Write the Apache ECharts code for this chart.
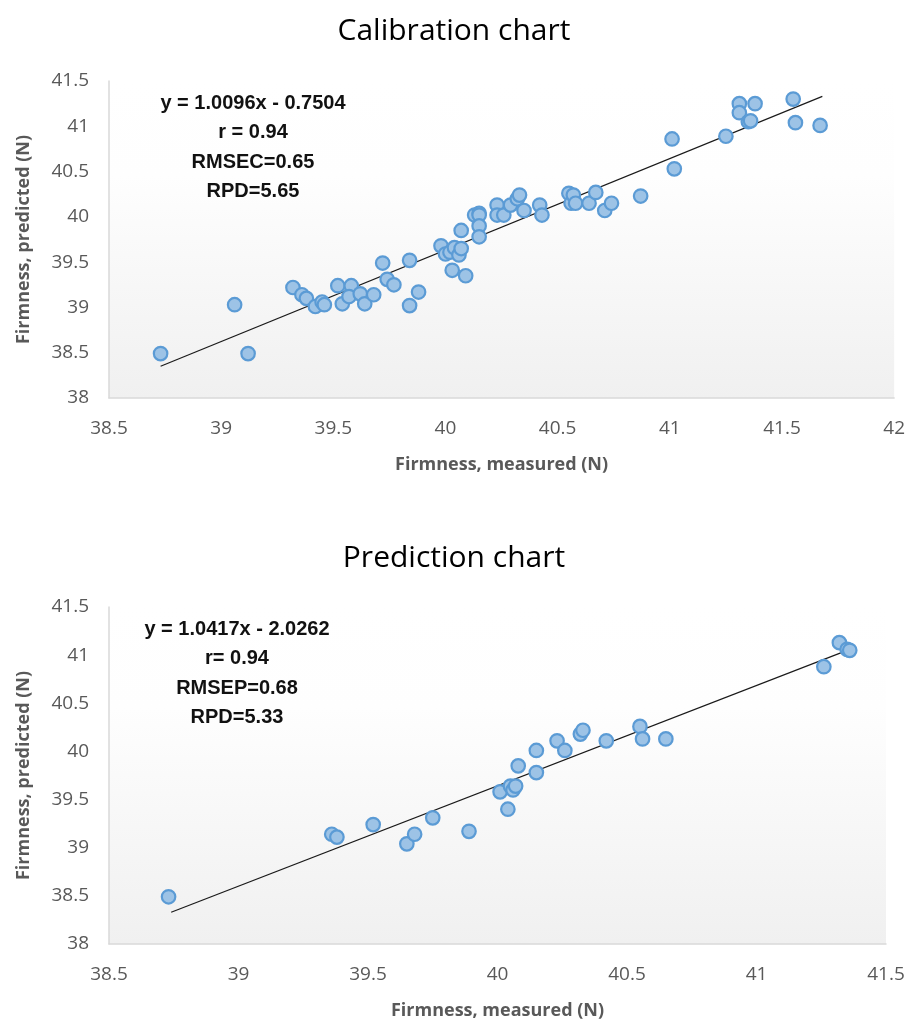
<!DOCTYPE html>
<html>
<head>
<meta charset="utf-8">
<script src="https://cdn.jsdelivr.net/npm/echarts@6/dist/echarts.min.js"></script>
<style>html,body{margin:0;padding:0;background:#fff;}#c{width:908px;height:1025px;}</style>
</head>
<body>
<div id="c"></div>
<script>
// Calibration set
const calMeasured = [38.73,39.06,39.12,39.32,39.36,39.38,39.42,39.45,39.46,39.52,39.54,39.58,39.57,39.62,39.64,39.68,39.72,39.74,39.77,39.84,39.84,39.88,39.98,40.00,40.02,40.04,40.06,40.07,40.03,40.09,40.07,40.13,40.15,40.15,40.15,40.15,40.23,40.23,40.26,40.29,40.32,40.33,40.35,40.42,40.43,40.55,40.56,40.57,40.58,40.64,40.67,40.71,40.74,40.87,41.01,41.02,41.25,41.31,41.31,41.38,41.35,41.36,41.55,41.56,41.67];
const calPredicted = [38.49,39.03,38.49,39.22,39.14,39.10,39.01,39.06,39.03,39.24,39.04,39.24,39.12,39.15,39.04,39.14,39.49,39.31,39.25,39.52,39.02,39.17,39.68,39.59,39.61,39.66,39.58,39.65,39.41,39.35,39.85,40.02,40.04,40.02,39.90,39.78,40.13,40.02,40.02,40.13,40.20,40.24,40.07,40.13,40.02,40.26,40.15,40.24,40.15,40.15,40.27,40.07,40.15,40.23,40.86,40.53,40.89,41.25,41.15,41.25,41.05,41.06,41.30,41.04,41.01];
const calTrendX = [38.73, 41.68];
const calTrendY = [38.35, 41.33];
const calLabels = ['y = 1.0096x - 0.7504', 'r = 0.94', 'RMSEC=0.65', 'RPD=5.65'];

// Prediction set
const predMeasured = [38.73,39.36,39.38,39.52,39.65,39.68,39.75,39.89,40.01,40.04,40.05,40.06,40.07,40.08,40.15,40.15,40.23,40.26,40.32,40.33,40.42,40.55,40.56,40.65,41.26,41.32,41.35,41.36];
const predPredicted = [38.49,39.14,39.11,39.24,39.04,39.14,39.31,39.17,39.58,39.40,39.64,39.60,39.64,39.85,40.01,39.78,40.11,40.01,40.18,40.22,40.11,40.26,40.13,40.13,40.88,41.13,41.06,41.05];
const predTrendX = [38.74, 41.36];
const predTrendY = [38.33, 41.06];
const predLabels = ['y = 1.0417x - 2.0262', 'r= 0.94', 'RMSEP=0.68', 'RPD=5.33'];

const calXTicks = {min: 38.5, max: 42, interval: 0.5};
const predXTicks = {min: 38.5, max: 41.5, interval: 0.5};
const yTicks = {min: 38, max: 41.5, interval: 0.5};

const titles = ['Calibration chart', 'Prediction chart'];
const xName = 'Firmness, measured (N)';
const yName = 'Firmness, predicted (N)';

const pairs = (a, b) => a.map((v, i) => [v, b[i]]);

const FONT = "'Open Sans', 'Liberation Sans', sans-serif";
const bg = new echarts.graphic.LinearGradient(0, 0, 0, 1, [
  {offset: 0, color: '#ffffff'},
  {offset: 0.3, color: '#fefefe'},
  {offset: 1, color: '#f0f0f0'}
]);

function xAxis(gi, t) {
  return {
    type: 'value', gridIndex: gi, min: t.min, max: t.max, interval: t.interval,
    name: xName, nameLocation: 'middle', nameGap: 58,
    nameTextStyle: {color: '#595959', fontSize: 18, fontWeight: 'bold', fontFamily: FONT},
    axisLine: {show: true, lineStyle: {color: '#d9d9d9', width: 1.5}},
    axisTick: {show: false}, splitLine: {show: false},
    axisLabel: {color: '#595959', fontSize: 19, fontFamily: FONT, margin: 21}
  };
}
function yAxis(gi) {
  return {
    type: 'value', gridIndex: gi, min: yTicks.min, max: yTicks.max, interval: yTicks.interval,
    name: yName, nameLocation: 'middle', nameGap: 76,
    nameTextStyle: {color: '#595959', fontSize: 18, fontWeight: 'bold', fontFamily: FONT},
    axisLine: {show: true, lineStyle: {color: '#d9d9d9', width: 1.5}},
    axisTick: {show: false}, splitLine: {show: false},
    axisLabel: {color: '#595959', fontSize: 19, fontFamily: FONT, margin: 20}
  };
}
function scatter(gi, x, y) {
  return {
    type: 'scatter', xAxisIndex: gi, yAxisIndex: gi, data: pairs(x, y),
    symbol: 'circle', symbolSize: 13.5,
    itemStyle: {color: '#9dc3e6', borderColor: '#5b9bd5', borderWidth: 2.2, opacity: 1},
    z: 3
  };
}
function trend(gi, x, y) {
  return {
    type: 'line', xAxisIndex: gi, yAxisIndex: gi, data: pairs(x, y),
    symbol: 'none', lineStyle: {color: '#1a1a1a', width: 1.2}, z: 2, silent: true
  };
}

const chart = echarts.init(document.getElementById('c'), null, {renderer: 'canvas'});
chart.setOption({
  animation: false,
  backgroundColor: '#ffffff',
  title: [
    {text: titles[0], left: 'center', top: 11, textStyle: {fontSize: 30, fontWeight: 'normal', color: '#000', fontFamily: FONT}},
    {text: titles[1], left: 'center', top: 538, textStyle: {fontSize: 30, fontWeight: 'normal', color: '#000', fontFamily: FONT}}
  ],
  grid: [
    {left: 109, top: 81, right: 13, height: 317, show: true, backgroundColor: bg, borderWidth: 0},
    {left: 109, top: 607, right: 22, height: 337, show: true, backgroundColor: bg, borderWidth: 0}
  ],
  xAxis: [xAxis(0, calXTicks), xAxis(1, predXTicks)],
  yAxis: [yAxis(0), yAxis(1)],
  series: [
    trend(0, calTrendX, calTrendY),
    scatter(0, calMeasured, calPredicted),
    trend(1, predTrendX, predTrendY),
    scatter(1, predMeasured, predPredicted)
  ],
  graphic: [
    {type: 'group', children: [
      {type: 'text', x: 253, y: 89, style: {text: calLabels.join('\n'), font: "bold 20px 'Liberation Sans', Arial, sans-serif", lineHeight: 29.3, fill: '#111', align: 'center'}},
      {type: 'text', x: 237, y: 615, style: {text: predLabels.join('\n'), font: "bold 20px 'Liberation Sans', Arial, sans-serif", lineHeight: 29.3, fill: '#111', align: 'center'}}
    ]}
  ]
});
</script>
</body>
</html>
